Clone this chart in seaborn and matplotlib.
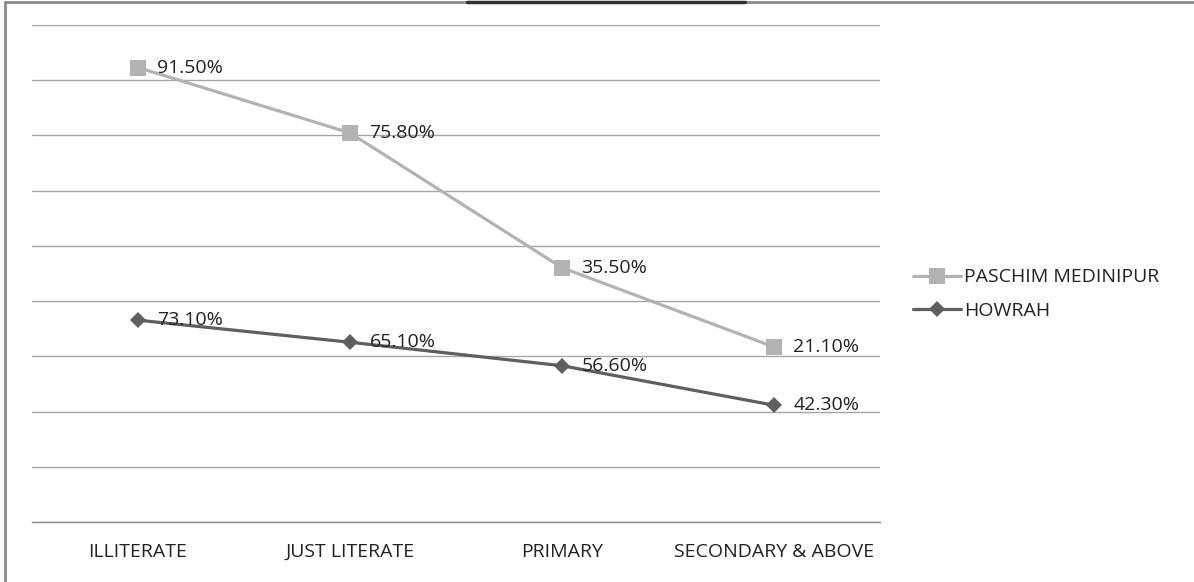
import matplotlib
matplotlib.use("Agg")
import matplotlib.pyplot as plt
import matplotlib.lines as mlines
import seaborn as sns
import pandas as pd
import numpy as np

categories = ["ILLITERATE", "JUST LITERATE", "PRIMARY", "SECONDARY & ABOVE"]
howrah = [73.1, 65.1, 56.6, 42.3]
paschim = [91.5, 75.8, 35.5, 21.1]
series_names = ["PASCHIM MEDINIPUR", "HOWRAH"]

sns.set_theme(style="white")
plt.rcParams['font.family'] = ['Open Sans', 'DejaVu Sans']

x = np.arange(len(categories))
stack_paschim = np.array(howrah) + np.array(paschim)
df = pd.DataFrame({
    "x": np.concatenate([x, x]),
    "y": np.concatenate([stack_paschim, howrah]),
    "label": np.concatenate([paschim, howrah]),
    "series": [series_names[0]] * len(x) + [series_names[1]] * len(x),
})

colors = {series_names[0]: "#b3b3b3", series_names[1]: "#5f5f5f"}
markers = {series_names[0]: "s", series_names[1]: "D"}
msizes = {series_names[0]: 11, series_names[1]: 8.5}

fig = plt.figure(figsize=(11.94, 5.82), dpi=100)
ax = fig.add_axes([32/1194, 1 - 522/582, (880-32)/1194, (522-25)/582])

for n in series_names:
    sub = df[df["series"] == n]
    sns.lineplot(data=sub, x="x", y="y", color=colors[n], marker=markers[n],
                 linewidth=2.3, markersize=msizes[n], markeredgewidth=0,
                 ax=ax, legend=False, zorder=3)

for _, r in df.iterrows():
    ax.annotate(f"{r['label']:.2f}%", (r["x"], r["y"]), xytext=(14, 0),
                textcoords="offset points", va="center", ha="left",
                fontsize=14, color="#222222", zorder=4)

ax.set_xlim(-0.5, 3.5)
ax.set_ylim(0, 180)
ax.set_yticks(np.arange(0, 181, 20))
ax.set_yticklabels([])
ax.tick_params(axis="y", length=0)
ax.grid(axis="y", color="#a6a6a6", linewidth=1)
ax.grid(axis="x", visible=False)
ax.set_axisbelow(True)

ax.set_xticks(np.arange(-0.5, 3.6, 1))
ax.set_xticklabels([])
ax.tick_params(axis="x", which="major", length=5, width=1, color="#8c8c8c", direction="out")
ax.set_xticks(x, minor=True)
ax.set_xticklabels(categories, minor=True, fontsize=14, color="#222222")
ax.tick_params(axis="x", which="minor", length=0, pad=15)
ax.set_xlabel("")
ax.set_ylabel("")

for s in ["top", "right", "left"]:
    ax.spines[s].set_visible(False)
ax.spines["bottom"].set_color("#8c8c8c")
ax.spines["bottom"].set_linewidth(1)

handles = [
    mlines.Line2D([], [], color=colors[n], marker=markers[n], linewidth=2.3,
                  markersize=msizes[n], markeredgewidth=0, label=n)
    for n in series_names
]
fig.legend(handles=handles, loc="center left", bbox_to_anchor=(903/1194, 1 - 294/582),
           frameon=False, fontsize=14, handlelength=2.5, handletextpad=0.15,
           labelspacing=0.78, labelcolor="#222222", borderpad=0)

# outer chart frame
fig.add_artist(mlines.Line2D([5/1194, 5/1194], [0, 1 - 2/582], transform=fig.transFigure,
                             color="#8c8c8c", linewidth=2))
fig.add_artist(mlines.Line2D([5/1194, 1], [1 - 1.5/582, 1 - 1.5/582], transform=fig.transFigure,
                             color="#8c8c8c", linewidth=2))
fig.add_artist(mlines.Line2D([467/1194, 745/1194], [1 - 1.5/582, 1 - 1.5/582], transform=fig.transFigure,
                             color="#333333", linewidth=2.5))

fig.savefig("out.png", dpi=100)
